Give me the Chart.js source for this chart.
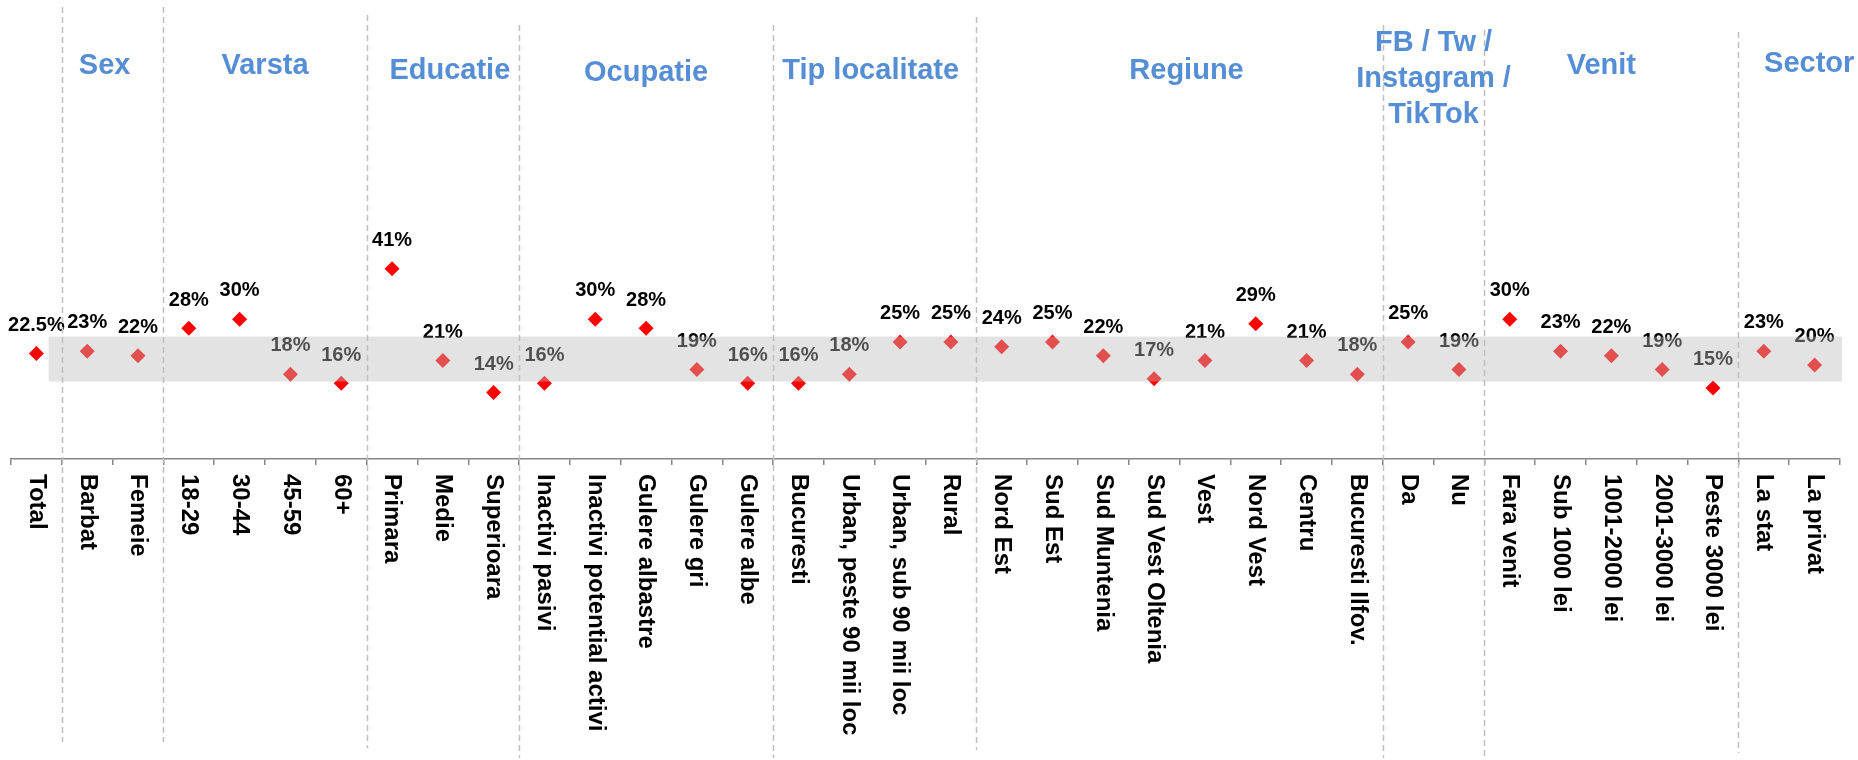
<!DOCTYPE html>
<html>
<head>
<meta charset="utf-8">
<script src="https://cdn.jsdelivr.net/npm/chart.js@4.4.0/dist/chart.umd.min.js"></script>
<style>
html,body{margin:0;padding:0;background:#ffffff;}
#wrap{width:1858px;height:760px;position:relative;}
</style>
</head>
<body>
<div id="wrap"><canvas id="c" width="1858" height="760"></canvas></div>
<script>
// ---- data ----
const categories = [
  'Total',
  'Barbat','Femeie',
  '18-29','30-44','45-59','60+',
  'Primara','Medie','Superioara',
  'Inactivi pasivi','Inactivi potential activi','Gulere albastre','Gulere gri','Gulere albe',
  'Bucuresti','Urban, peste 90 mii loc','Urban, sub 90 mii loc','Rural',
  'Nord Est','Sud Est','Sud Muntenia','Sud Vest Oltenia','Vest','Nord Vest','Centru','Bucuresti Ilfov.',
  'Da','Nu',
  'Fara venit','Sub 1000 lei','1001-2000 lei','2001-3000 lei','Peste 3000 lei',
  'La stat','La privat'
];
const values = [
  22.5,
  23, 22,
  28, 30, 18, 16,
  41, 21, 14,
  16, 30, 28, 19, 16,
  16, 18, 25, 25,
  24, 25, 22, 17, 21, 29, 21, 18,
  25, 19,
  30, 23, 22, 19, 15,
  23, 20
];
const groupNames = ['Sex','Varsta','Educatie','Ocupatie','Tip localitate','Regiune','FB / Tw /\nInstagram /\nTikTok','Venit','Sector'];
const groupFirst = [1, 3, 7, 10, 15, 19, 27, 29, 34];
const groupLast  = [2, 6, 9, 14, 18, 26, 28, 33, 35];
const bandLow = 16.4;
const bandHigh = 26.2;

// ---- styles (not data) ----
const headerStyle = {
  dx: [-8, 0, 7, 0, -4, 7, 0, -10, 20],
  cy: [63.5, 64, 68.7, 71, 69, 69, 41, 63.5, 62]
};
const sepStyle = {
  top:    [7, 7, 15, 25, 25, 17, 25, 30, 32],
  bottom: [742, 742, 748, 758, 758, 750, 758, 758, 753]
};
const FONT = '"Liberation Sans", Arial, Helvetica, sans-serif';

const decor = {
  id: 'decor',
  afterDatasetsDraw(chart) {
    const ctx = chart.ctx;
    const meta = chart.getDatasetMeta(0);
    const xs = chart.scales.x, ys = chart.scales.y;
    // value labels
    ctx.save();
    ctx.font = 'bold 20px ' + FONT;
    ctx.fillStyle = '#000000';
    ctx.textAlign = 'center';
    ctx.textBaseline = 'alphabetic';
    meta.data.forEach((pt, i) => {
      ctx.fillText(values[i] + '%', pt.x, pt.y - 22.8);
    });
    ctx.restore();
    // translucent band on top of points and labels
    ctx.save();
    const x0 = xs.getPixelForValue(0.24), x1 = xs.getPixelForValue(35.54);
    const y0 = ys.getPixelForValue(bandHigh), y1 = ys.getPixelForValue(bandLow);
    ctx.fillStyle = 'rgba(189,189,189,0.42)';
    ctx.fillRect(x0, y0, x1 - x0, y1 - y0);
    ctx.restore();
  },
  afterDraw(chart) {
    const ctx = chart.ctx;
    const xs = chart.scales.x;
    // separators between groups
    ctx.save();
    ctx.strokeStyle = '#BFBFBF';
    ctx.lineWidth = 1.5;
    ctx.setLineDash([6, 4]);
    const bounds = [0].concat(groupLast.slice(0, -1));
    bounds.forEach((b, k) => {
      const x = (xs.getPixelForValue(b) + xs.getPixelForValue(b + 1)) / 2;
      ctx.beginPath();
      ctx.moveTo(Math.round(x) + 0.5, sepStyle.top[k]);
      ctx.lineTo(Math.round(x) + 0.5, sepStyle.bottom[k]);
      ctx.stroke();
    });
    ctx.restore();
    // rotated category labels
    ctx.save();
    ctx.font = 'bold 24px ' + FONT;
    ctx.fillStyle = '#000000';
    ctx.textAlign = 'left';
    ctx.textBaseline = 'middle';
    categories.forEach((lab, i) => {
      const x = xs.getPixelForValue(i);
      ctx.save();
      ctx.translate(x, 474);
      ctx.rotate(Math.PI / 2);
      ctx.fillText(lab, 0, 0);
      ctx.restore();
    });
    ctx.restore();
    // group headers
    ctx.save();
    ctx.font = 'bold 29px ' + FONT;
    ctx.fillStyle = '#558ED5';
    ctx.textAlign = 'center';
    ctx.textBaseline = 'alphabetic';
    groupNames.forEach((name, k) => {
      const cx = (xs.getPixelForValue(groupFirst[k]) + xs.getPixelForValue(groupLast[k])) / 2 + headerStyle.dx[k];
      const lines = name.split('\n');
      lines.forEach((ln, j) => {
        ctx.fillText(ln, cx, headerStyle.cy[k] + 10.4 + j * 36);
      });
    });
    ctx.restore();
  }
};

new Chart(document.getElementById('c'), {
  type: 'line',
  data: {
    labels: categories,
    datasets: [{
      data: values,
      showLine: false,
      pointStyle: 'rectRot',
      pointRadius: 7.5,
      pointHoverRadius: 7.5,
      pointBackgroundColor: '#FF0000',
      pointBorderColor: '#FF0000',
      pointBorderWidth: 0
    }]
  },
  options: {
    responsive: false,
    animation: false,
    devicePixelRatio: 1,
    layout: { padding: { left: 11, right: 18, top: 1, bottom: 0 } },
    plugins: { legend: { display: false }, tooltip: { enabled: false } },
    events: [],
    scales: {
      x: {
        offset: true,
        grid: { offset: true, drawOnChartArea: false, drawTicks: true, tickLength: 6, color: '#868686', lineWidth: 1.5 },
        border: { display: true, color: '#868686', width: 1.5 },
        ticks: { display: false },
        afterFit(s) { s.height = 301; }
      },
      y: { display: false, min: -0.5, max: 98 }
    }
  },
  plugins: [decor]
});
</script>
</body>
</html>
